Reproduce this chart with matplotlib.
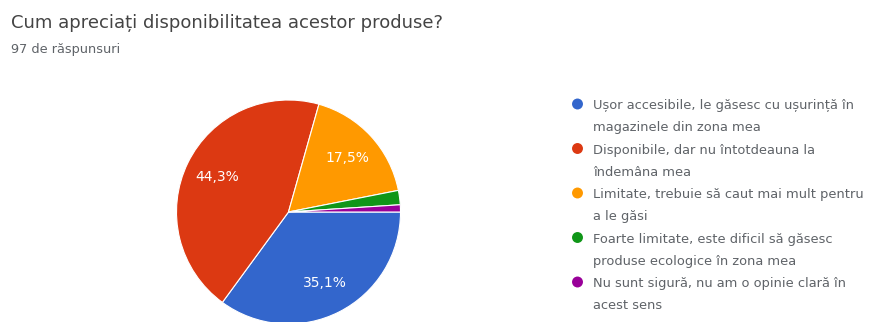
import matplotlib.pyplot as plt

plt.rcParams['font.family'] = ['DejaVu Sans']

# Răspunsuri la întrebare (97 în total)
categories = [
    ["Ușor accesibile, le găsesc cu ușurință în", "magazinele din zona mea"],
    ["Disponibile, dar nu întotdeauna la", "îndemâna mea"],
    ["Limitate, trebuie să caut mai mult pentru", "a le găsi"],
    ["Foarte limitate, este dificil să găsesc", "produse ecologice în zona mea"],
    ["Nu sunt sigură, nu am o opinie clară în", "acest sens"],
]
counts = [34, 43, 17, 2, 1]
colors = ["#3366cc", "#dc3912", "#ff9900", "#109618", "#990099"]

title = "Cum apreciați disponibilitatea acestor produse?"
subtitle = "97 de răspunsuri"

W, H = 870, 322
fig = plt.figure(figsize=(W / 100, H / 100), dpi=100)

# pie: centre (288, 212) px, radius 112 px
cx, cy, r = 288.5, 212, 112
ax = fig.add_axes([(cx - r) / W, (H - cy - r) / H, 2 * r / W, 2 * r / H])


def pct_label(p):
    return f"{p:.1f}%".replace(".", ",") if p > 5 else ""


wedges, _, autotexts = ax.pie(
    counts, colors=colors, startangle=0, counterclock=False,
    autopct=pct_label, pctdistance=0.71,
    wedgeprops=dict(edgecolor="white", linewidth=0.8),
    textprops=dict(color="white", fontsize=10),
)
ax.set_xlim(-1, 1)
ax.set_ylim(-1, 1)
ax.set_aspect("equal")
ax.axis("off")

# overlay in pixel coordinates for title and legend
ov = fig.add_axes([0, 0, 1, 1], zorder=-1)
ov.set_xlim(0, W)
ov.set_ylim(H, 0)
ov.axis("off")

ov.text(11, 28, title, fontsize=13, color="#444444", va="baseline")
ov.text(11, 53, subtitle, fontsize=9.3, color="#5f6368", va="baseline")

leg_x, leg_y0, step = 577.5, 104, 44.5
for i, (lines, col) in enumerate(zip(categories, colors)):
    y = leg_y0 + i * step
    ov.scatter([leg_x], [y], s=62, color=col, edgecolors="none")
    for j, line in enumerate(lines):
        ov.text(leg_x + 15.5, y + 5 + 22 * j, line, fontsize=9.4,
                color="#5f6368", va="baseline")

fig.savefig("out.png", dpi=100)
